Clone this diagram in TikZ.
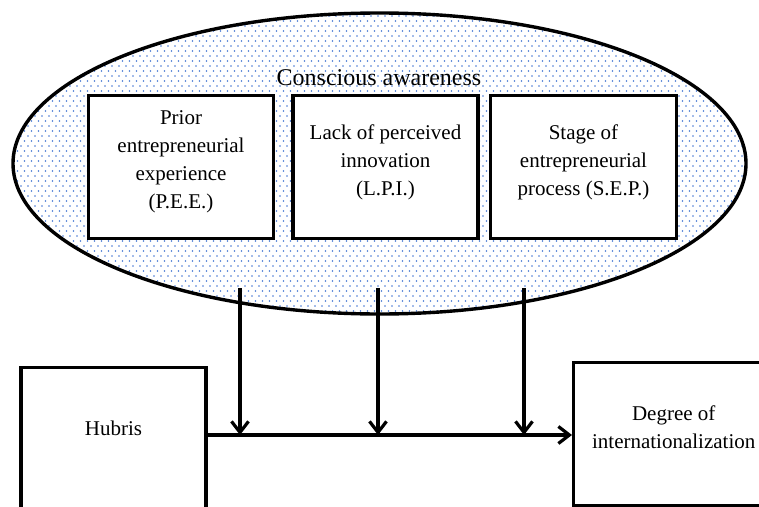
\documentclass[tikz,border=0pt]{standalone}
\usepackage{fontspec}
\setmainfont{Liberation Serif}
\usetikzlibrary{shapes.geometric, arrows.meta, patterns, positioning}
\definecolor{puntoblu}{RGB}{70,120,210}
% retino a puntini sfalsati
\pgfdeclarepatternformonly{puntini}{\pgfqpoint{-1pt}{-1pt}}{\pgfqpoint{8pt}{11pt}}{\pgfqpoint{7pt}{10pt}}{
    \pgfpathcircle{\pgfqpoint{0pt}{0pt}}{0.8pt}
    \pgfpathcircle{\pgfqpoint{3.5pt}{5pt}}{0.8pt}
    \pgfusepath{fill}
}

\begin{document}
\begin{tikzpicture}[x = 1pt, y = -1pt,
    scatola/.style = {draw, line width = 3.4pt, align = center, inner sep = 0pt,
        font = \fontsize{21}{28}\selectfont},
    freccia/.style = {line width = 3.2pt, -{Straight Barb[length = 11pt, width = 17pt, line width = 3.2pt]}}]
    \useasboundingbox (0,0) rectangle (759,506);
    \clip (0,0) rectangle (759,506);
    % ellisse
    \node[ellipse, draw, line width = 3.4pt, pattern = puntini, pattern color = puntoblu,
        minimum width = 733pt, minimum height = 301pt] (coscienza) at (379.5,163.5) {};
    \node[font = \fontsize{24}{28}\selectfont] (titolo) at (379,78) {Conscious awareness};
    % riquadri interni
    \node[scatola, fill = white, minimum width = 185pt, minimum height = 143pt] (pee) at (181,167)
        {Prior\\entrepreneurial\\experience\\(P.E.E.)\\[-14pt]};
    \node[scatola, fill = white, minimum width = 185pt, minimum height = 143pt] (lpi) at (385.5,167)
        {Lack of perceived\\innovation\\(L.P.I.)\\[-14pt]};
    \node[scatola, fill = white, minimum width = 186pt, minimum height = 143pt] (sep) at (583.5,167)
        {Stage of\\entrepreneurial\\process (S.E.P.)\\[-14pt]};
    % riquadri in basso
    \node[scatola, anchor = north, minimum width = 185pt, text height = 68pt, text depth = 95pt] (hubris) at (113.5,366) {Hubris};
    \node[scatola, anchor = north west, minimum width = 200pt, minimum height = 143pt] (grado) at (572,361)
        {Degree of\\internationalization\\[-14pt]};
    % asse orizzontale
    \coordinate (asse) at (0,435);
    \draw[freccia] (hubris.east |- asse) -- (grado.west |- asse);
    % frecce verticali
    \coordinate (p1) at (240,288);
    \coordinate (p2) at (378,288);
    \coordinate (p3) at (524,288);
    \draw[freccia] (p1) -- (p1 |- asse);
    \draw[freccia] (p2) -- (p2 |- asse);
    \draw[freccia] (p3) -- (p3 |- asse);
\end{tikzpicture}
\end{document}
